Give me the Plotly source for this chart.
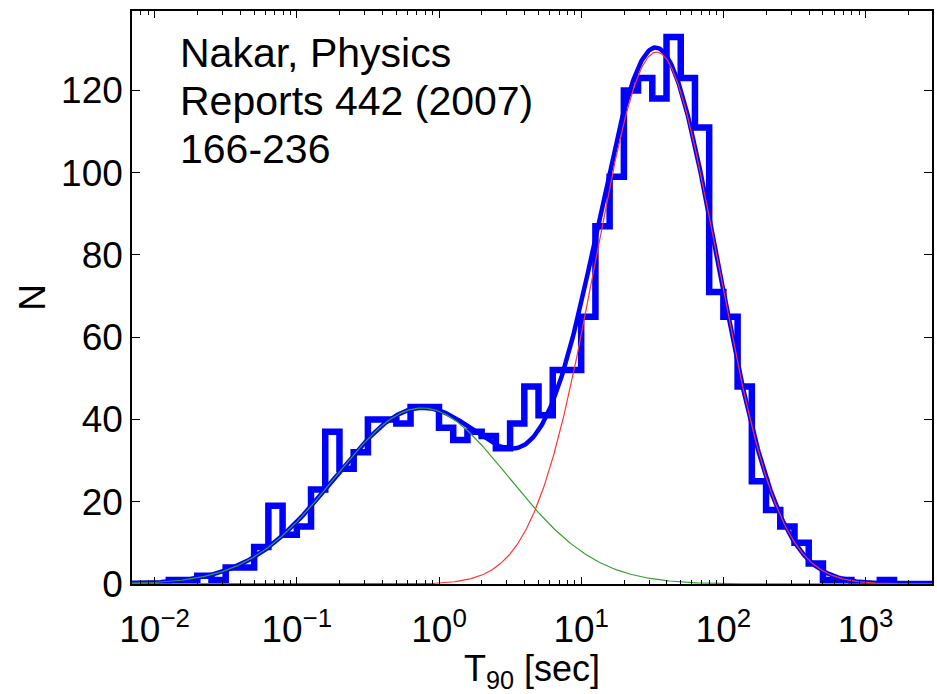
import numpy as np
import plotly.graph_objects as go

# ---- data ----
# histogram: lower bin edges in log10(T90), bin width 0.1 dex
bin_lo_log = [round(-2.2 + 0.1 * i, 1) for i in range(57)]  # -2.2 .. 3.4
counts = [0, 0, 0, 1, 1, 2, 1, 4, 4, 9,
          19, 12, 14, 23, 37, 28, 32, 40, 40, 39,
          43, 43, 38, 35, 37, 36, 33, 39, 48, 41,
          52, 52, 65, 87, 99, 120, 123, 118, 133, 123,
          111, 71, 65, 48, 25, 18, 14, 10, 5, 1,
          1, 0, 0, 1, 0, 0, 0]
bin_width_log = 0.1

# two-component log-normal fit (amplitude, centre log10, sigma log10)
short_amp, short_mu, short_sigma = 42.8, -0.12, 0.61
long_amp, long_mu, long_sigma = 129.3, 1.53, 0.43

x_tick_vals = [1e-2, 1e-1, 1e0, 1e1, 1e2, 1e3]
x_tick_text = ["10<sup>\u22122</sup>", "10<sup>\u22121</sup>", "10<sup>0</sup>",
               "10<sup>1</sup>", "10<sup>2</sup>", "10<sup>3</sup>"]
y_tick_vals = [0, 20, 40, 60, 80, 100, 120]

annot_lines = ["Nakar, Physics", "Reports 442 (2007)", "166-236"]

# ---- build traces ----
edges_log = bin_lo_log + [round(bin_lo_log[-1] + bin_width_log, 1)]
hist_x = [10 ** e for e in edges_log]
hist_y = counts + [counts[-1]]

lx = np.linspace(-2.3, 3.6, 800)
fx = 10 ** lx
g_short = short_amp * np.exp(-(lx - short_mu) ** 2 / (2 * short_sigma ** 2))
g_long = long_amp * np.exp(-(lx - long_mu) ** 2 / (2 * long_sigma ** 2))
g_tot = g_short + g_long

fig = go.Figure()
fig.add_trace(go.Scatter(x=hist_x, y=hist_y, mode="lines", line_shape="hv",
                         line=dict(color="#0000FF", width=6.5), showlegend=False))
fig.add_trace(go.Scatter(x=fx, y=g_tot, mode="lines",
                         line=dict(color="#0000FF", width=4.5), showlegend=False))
fig.add_trace(go.Scatter(x=fx, y=g_short, mode="lines",
                         line=dict(color="#33a033", width=1.2), showlegend=False))
fig.add_trace(go.Scatter(x=fx, y=g_long, mode="lines",
                         line=dict(color="#ff3333", width=1.2), showlegend=False))

minor_vals = [m * 10 ** e for e in range(-3, 4) for m in range(2, 10)]

font_family = "Liberation Sans, Arial, Helvetica, sans-serif"

fig.update_layout(
    width=937, height=694,
    margin=dict(l=132, r=3, t=11, b=110),
    paper_bgcolor="white", plot_bgcolor="white",
    font=dict(family=font_family, size=36, color="black"),
    xaxis=dict(type="log", range=[-2.159, 3.467],
               tickmode="array", tickvals=x_tick_vals, ticktext=x_tick_text,
               ticks="inside", ticklen=7, tickwidth=1.2, tickcolor="black",
               showline=True, linecolor="black", linewidth=1.5, mirror="allticks",
               showgrid=False, zeroline=False, ticklabelstandoff=12,
               minor=dict(tickmode="array", tickvals=minor_vals, ticks="inside",
                          ticklen=4, tickwidth=1, tickcolor="black", showgrid=False),
               tickfont=dict(size=37),
               title=dict(text="T<sub>90</sub> [sec]", font=dict(size=36), standoff=10)),
    yaxis=dict(range=[0, 139.3], tickmode="array", tickvals=y_tick_vals,
               ticks="inside", ticklen=8, tickwidth=1.2, tickcolor="black",
               showline=True, linecolor="black", linewidth=1.5, mirror="allticks",
               showgrid=False, zeroline=False,
               tickfont=dict(size=37),
               title=dict(text="N", font=dict(size=37), standoff=4)),
)

ys = [0.9272, 0.8429, 0.7586]
for txt, yy in zip(annot_lines, ys):
    fig.add_annotation(text=txt, xref="paper", yref="paper", x=0.0574, y=yy,
                       xanchor="left", yanchor="middle", showarrow=False,
                       font=dict(size=41, color="black", family=font_family))

fig.write_html("out.html")
